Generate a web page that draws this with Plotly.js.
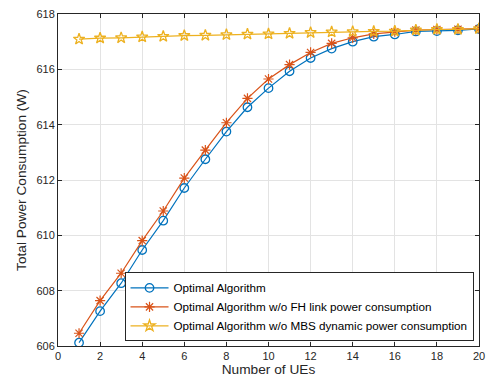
<!DOCTYPE html>
<html><head><meta charset="utf-8">
<script src="https://cdn.plot.ly/plotly-3.0.1.min.js"></script>
<style>html,body{margin:0;padding:0;background:#fff}#chart{width:489px;height:381px}</style>
</head><body><div id="chart"></div>
<script>
const ues = [1,2,3,4,5,6,7,8,9,10,11,12,13,14,15,16,17,18,19,20];
const optimal = [606.12,607.26,608.27,609.47,610.53,611.71,612.75,613.75,614.63,615.32,615.93,616.41,616.75,617.0,617.18,617.26,617.37,617.38,617.41,617.46];
const noFH = [606.46,607.64,608.63,609.81,610.88,612.07,613.08,614.07,614.95,615.65,616.17,616.61,616.94,617.14,617.28,617.36,617.42,617.44,617.45,617.47];
const noMBS = [617.09,617.13,617.14,617.17,617.19,617.22,617.23,617.25,617.27,617.28,617.3,617.33,617.35,617.36,617.37,617.38,617.42,617.44,617.44,617.47];
const names = ['Optimal Algorithm','Optimal Algorithm w/o FH link power consumption','Optimal Algorithm w/o MBS dynamic power consumption'];

const traces = [
  {x: ues, y: optimal, name: names[0], mode: 'lines+markers',
   line: {color: '#0072BD', width: 1.2},
   marker: {symbol: 'circle-open', size: 8.5, color: '#0072BD', line: {width: 1.3}}},
  {x: ues, y: noFH, name: names[1], mode: 'lines+markers',
   line: {color: '#D95319', width: 1.2},
   marker: {symbol: 'asterisk-open', size: 8.5, color: '#D95319', line: {width: 1.2, color: '#D95319'}}},
  {x: ues, y: noMBS, name: names[2], mode: 'lines+markers',
   line: {color: '#EDB120', width: 1.2},
   marker: {symbol: 'star-open', size: 8.5, color: '#EDB120', line: {width: 1.3}}}
];

const axisCommon = {
  showline: true, linecolor: '#262626', linewidth: 1, mirror: 'ticks',
  ticks: 'inside', ticklen: 4, tickcolor: '#262626',
  showgrid: true, gridcolor: '#e3e3e3', gridwidth: 1, zeroline: false,
  tickfont: {family: 'Liberation Sans, Arial, sans-serif', size: 11, color: '#262626'}
};

const layout = {
  width: 489, height: 381,
  margin: {l: 58, r: 10, t: 14, b: 35},
  paper_bgcolor: '#fff', plot_bgcolor: '#fff',
  showlegend: true,
  xaxis: Object.assign({}, axisCommon, {range: [0, 20], dtick: 2,
    title: {text: 'Number of UEs', standoff: 2, font: {family: 'Liberation Sans, Arial, sans-serif', size: 13.7, color: '#262626'}}}),
  yaxis: Object.assign({}, axisCommon, {range: [606, 618], dtick: 2,
    title: {text: 'Total Power Consumption (W)', standoff: 6, font: {family: 'Liberation Sans, Arial, sans-serif', size: 13.7, color: '#262626'}}}),
  legend: {x: 0.158, y: 0.014, xanchor: 'left', yanchor: 'bottom',
    bgcolor: '#fff', bordercolor: '#262626', borderwidth: 1,
    font: {family: 'Liberation Sans, Arial, sans-serif', size: 11.7, color: '#000'},
    tracegroupgap: 0, itemwidth: 38}
};

Plotly.newPlot('chart', traces, layout, {displayModeBar: false, staticPlot: true});
</script></body></html>
